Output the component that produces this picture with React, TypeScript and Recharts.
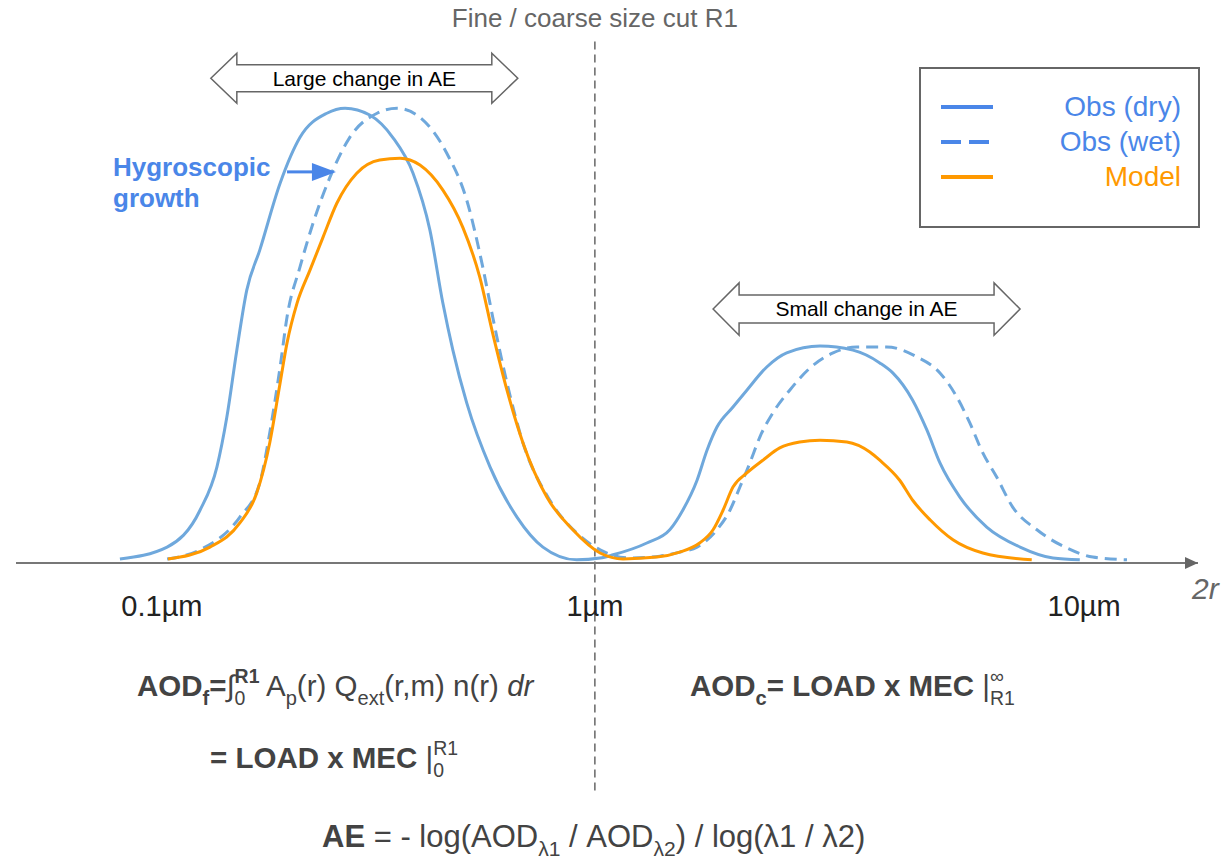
import React from 'react'
import {
  ComposedChart,
  Line,
  XAxis,
  YAxis,
  ReferenceLine,
  ReferenceArea,
  ReferenceDot,
  Legend,
} from 'recharts'

const FONT = '"Liberation Sans", Arial, Helvetica, sans-serif'

// x: log10 of 2r relative to 1 µm (schematic), y: relative amount (fine dry peak = 100)
const obsDry: [number, number][] = [
  [-1.097, 0.9], [-0.988, 3.5], [-0.912, 11.6], [-0.873, 21.1], [-0.85, 32.1],
  [-0.827, 46.8], [-0.804, 60.0], [-0.774, 68.8], [-0.727, 83.5], [-0.681, 93.6],
  [-0.619, 98.9], [-0.577, 100], [-0.52, 98.5], [-0.467, 93.6], [-0.42, 85.7],
  [-0.381, 73.2], [-0.351, 57.1], [-0.328, 46.8], [-0.296, 35.2], [-0.242, 21.1],
  [-0.18, 10.1], [-0.12, 3.5], [-0.042, 0.7], [0.012, 1.1], [0.042, 1.8],
  [0.12, 4.4], [0.173, 7.3], [0.203, 11.6], [0.236, 18.2], [0.259, 24.8],
  [0.282, 29.9], [0.319, 34.3], [0.351, 38.0], [0.397, 43.1], [0.443, 46.2],
  [0.52, 47.7], [0.596, 46.8], [0.658, 44.0], [0.688, 41.8], [0.734, 35.8],
  [0.767, 29.2], [0.797, 22.0], [0.843, 14.5], [0.905, 7.9], [0.982, 3.5],
  [1.058, 1.1], [1.12, 0.7],
]

const obsWet: [number, number][] = [
  [-0.988, 0.9], [-0.912, 2.9], [-0.82, 10.1], [-0.774, 17.6], [-0.751, 28.6],
  [-0.727, 43.1], [-0.711, 54.1], [-0.681, 65.1], [-0.651, 74.7], [-0.612, 84.8],
  [-0.566, 93.6], [-0.503, 98.9], [-0.457, 100], [-0.404, 98.0], [-0.342, 90.1],
  [-0.296, 79.8], [-0.259, 65.1], [-0.236, 54.1], [-0.203, 39.6], [-0.166, 26.4],
  [-0.104, 13.8], [-0.042, 6.6], [0.012, 2.9], [0.081, 1.1], [0.15, 1.5],
  [0.196, 2.4], [0.236, 3.5], [0.282, 7.3], [0.312, 11.6], [0.335, 16.7],
  [0.358, 22.0], [0.381, 27.7], [0.411, 33.0], [0.45, 38.0], [0.497, 42.9],
  [0.55, 46.2], [0.605, 47.5], [0.674, 47.5], [0.744, 45.3], [0.797, 41.8],
  [0.836, 36.5], [0.866, 30.8], [0.896, 24.2], [0.928, 18.9], [0.965, 12.3],
  [1.021, 7.3], [1.09, 3.3], [1.15, 1.3], [1.229, 0.7],
]

const model: [number, number][] = [
  [-0.986, 0.9], [-0.889, 3.5], [-0.82, 8.8], [-0.781, 15.4], [-0.751, 26.4],
  [-0.727, 39.6], [-0.711, 48.4], [-0.688, 57.1], [-0.658, 64.4], [-0.628, 71.6],
  [-0.596, 79.1], [-0.55, 85.7], [-0.497, 88.6], [-0.45, 89.0], [-0.404, 87.5],
  [-0.351, 82.0], [-0.305, 73.8], [-0.266, 62.9], [-0.236, 50.5], [-0.203, 38.0],
  [-0.166, 26.4], [-0.111, 14.5], [-0.051, 7.3], [0.012, 2.2], [0.065, 0.9],
  [0.143, 1.3], [0.196, 2.4], [0.242, 4.4], [0.273, 7.3], [0.296, 11.6],
  [0.319, 16.7], [0.351, 19.8], [0.388, 22.6], [0.427, 25.3], [0.473, 26.6],
  [0.52, 27.0], [0.582, 26.6], [0.635, 24.4], [0.658, 22.6], [0.704, 18.2],
  [0.734, 13.8], [0.774, 9.5], [0.827, 5.1], [0.896, 2.2], [1.009, 0.7],
]

const seriesNames = ['Obs (dry)', 'Obs (wet)', 'Model']
const seriesStroke = ['#6fa8dc', '#6fa8dc', '#ff9900']
const legendColors = ['#4a86e8', '#4a86e8', '#ff9900']
const legendDash = ['none', '20 8', 'none']

const tickPositions = [-1, 0, 1.13]
const tickLabels = ['0.1µm', '1µm', '10µm']

const xDomain: [number, number] = [-1.337, 1.393]
const yDomain: [number, number] = [0, 115]
const cutLineSpan = [-50, 114.9]

// annotation spans [x1, x2, y1, y2]
const largeChange = [-0.887, -0.178, 101.1, 112.1]
const smallChange = [0.273, 0.982, 50.1, 61.6]
const growthArrow = [-0.711, -0.598, 86]

const toRows = (pts: [number, number][]) => pts.map(([x, y]) => ({ x, y }))

function DoubleArrow(props: any) {
  const { x, y, width: w, height: h } = props
  const head = 26
  const half = h * 0.27
  const cy = y + h / 2
  const pts = [
    [x, cy], [x + head, y], [x + head, cy - half], [x + w - head, cy - half],
    [x + w - head, y], [x + w, cy], [x + w - head, y + h], [x + w - head, cy + half],
    [x + head, cy + half], [x + head, y + h],
  ]
  return (
    <polygon
      points={pts.map((p) => p.join(',')).join(' ')}
      fill="#fff"
      stroke="#666"
      strokeWidth={1.5}
    />
  )
}

function GrowthArrow(props: any) {
  const { x1, y1, x2 } = props
  return (
    <g>
      <line x1={x1} y1={y1} x2={x2 - 20} y2={y1} stroke="#4a86e8" strokeWidth={3} />
      <polygon
        points={`${x2 - 24},${y1 - 9} ${x2},${y1} ${x2 - 24},${y1 + 9}`}
        fill="#4a86e8"
      />
    </g>
  )
}

function AxisHead(props: any) {
  const { cx, cy } = props
  return <polygon points={`${cx - 13},${cy - 6} ${cx},${cy} ${cx - 13},${cy + 6}`} fill="#666" />
}

function SizeTick(props: any) {
  const { x, y, index } = props
  return (
    <text x={x} y={y} dy={19} textAnchor="middle" fill="#222" fontSize={29} fontFamily={FONT}>
      {tickLabels[index]}
    </text>
  )
}

function LegendBox() {
  return (
    <div
      style={{
        width: 281,
        height: 161,
        boxSizing: 'border-box',
        border: '2px solid #666',
        background: '#fff',
        paddingTop: 20,
        fontFamily: FONT,
      }}
    >
      {seriesNames.map((name, i) => (
        <div
          key={name}
          style={{ display: 'flex', alignItems: 'center', height: 35, paddingLeft: 20, paddingRight: 17 }}
        >
          <svg width="52" height="6" aria-hidden="true">
            <line
              x1="0" y1="3" x2="52" y2="3"
              stroke={legendColors[i]}
              strokeWidth="4"
              strokeDasharray={legendDash[i]}
            />
          </svg>
          <span style={{ flex: 1, textAlign: 'right', fontSize: 28, color: legendColors[i], lineHeight: 1 }}>
            {name}
          </span>
        </div>
      ))}
    </div>
  )
}

const sub: React.CSSProperties = { fontSize: '0.68em', position: 'relative', top: '0.42em' }

function Limits({ bar, hi, lo, hiBold }: { bar: string; hi: string; lo: string; hiBold?: boolean }) {
  return (
    <>
      <span style={{ fontWeight: 400 }}>{bar}</span>
      <span
        style={{
          display: 'inline-block',
          verticalAlign: 'middle',
          fontSize: '0.66em',
          lineHeight: 1.15,
          textAlign: 'left',
          position: 'relative',
          top: '-0.05em',
        }}
      >
        <span style={{ display: 'block', fontWeight: hiBold ? 700 : 400 }}>{hi}</span>
        <span style={{ display: 'block', fontWeight: 400 }}>{lo}</span>
      </span>
    </>
  )
}

const formulaStyle: React.CSSProperties = {
  position: 'absolute',
  fontFamily: FONT,
  fontSize: 29.5,
  lineHeight: '29px',
  color: '#434343',
  whiteSpace: 'nowrap',
}

export default function App() {
  return (
    <div style={{ position: 'absolute', left: 0, top: 0, width: 1229, height: 861, background: '#fff', fontFamily: FONT }}>
      <ComposedChart
        width={1229}
        height={861}
        margin={{ top: 40, right: 31, bottom: 248, left: 16 }}
      >
        <XAxis
          type="number"
          dataKey="x"
          domain={xDomain}
          allowDataOverflow
          ticks={tickPositions}
          interval={0}
          height={50}
          tickLine={false}
          tickSize={0}
          tickMargin={34}
          axisLine={{ stroke: '#777', strokeWidth: 2 }}
          tick={SizeTick}
          label={{ value: '2r', position: 'right', offset: -6, fill: '#666', fontSize: 30, fontStyle: 'italic', fontFamily: FONT }}
        />
        <YAxis type="number" domain={yDomain} allowDataOverflow hide />
        <Legend
          layout="horizontal"
          verticalAlign="middle"
          align="center"
          content={() => <LegendBox />}
          wrapperStyle={{ position: 'absolute', left: 919, top: 67, width: 281, height: 161 }}
        />
        <ReferenceLine
          segment={[{ x: 0, y: cutLineSpan[0] }, { x: 0, y: cutLineSpan[1] }]}
          ifOverflow="visible"
          stroke="#666"
          strokeWidth={1.5}
          strokeDasharray="8 5"
          label={{ value: 'Fine / coarse size cut R1', position: 'top', offset: 13, fill: '#666', fontSize: 26, fontFamily: FONT }}
        />
        <Line
          data={toRows(obsDry)}
          dataKey="y"
          name={seriesNames[0]}
          type="monotone"
          stroke={seriesStroke[0]}
          strokeWidth={3}
          dot={false}
          activeDot={false}
          isAnimationActive={false}
        />
        <Line
          data={toRows(obsWet)}
          dataKey="y"
          name={seriesNames[1]}
          type="monotone"
          stroke={seriesStroke[1]}
          strokeWidth={3}
          strokeDasharray="12 7"
          dot={false}
          activeDot={false}
          isAnimationActive={false}
        />
        <Line
          data={toRows(model)}
          dataKey="y"
          name={seriesNames[2]}
          type="monotone"
          stroke={seriesStroke[2]}
          strokeWidth={3}
          dot={false}
          activeDot={false}
          isAnimationActive={false}
        />
        <ReferenceArea
          x1={largeChange[0]}
          x2={largeChange[1]}
          y1={largeChange[2]}
          y2={largeChange[3]}
          shape={DoubleArrow}
          label={{ value: 'Large change in AE', position: 'center', fill: '#000', fontSize: 21, fontFamily: FONT }}
        />
        <ReferenceArea
          x1={smallChange[0]}
          x2={smallChange[1]}
          y1={smallChange[2]}
          y2={smallChange[3]}
          shape={DoubleArrow}
          label={{ value: 'Small change in AE', position: 'center', fill: '#000', fontSize: 21, fontFamily: FONT }}
        />
        <ReferenceLine
          segment={[{ x: growthArrow[0], y: growthArrow[2] }, { x: growthArrow[1], y: growthArrow[2] }]}
          ifOverflow="visible"
          shape={GrowthArrow}
        />
        <ReferenceDot x={xDomain[1]} y={0} ifOverflow="visible" shape={AxisHead} />
      </ComposedChart>

      <div
        style={{
          position: 'absolute',
          left: 113,
          top: 152,
          fontFamily: FONT,
          fontWeight: 700,
          fontSize: 26,
          lineHeight: '31px',
          color: '#4a86e8',
        }}
      >
        Hygroscopic
        <br />
        growth
      </div>

      <div style={{ ...formulaStyle, left: 137, top: 666 }}>
        <b>AOD<span style={sub}>f</span>=</b>
        <Limits bar="∫" hi="R1" lo="0" hiBold /> A<span style={sub}>p</span>(r) Q<span style={sub}>ext</span>(r,m) n(r) <i>dr</i>
      </div>
      <div style={{ ...formulaStyle, left: 210, top: 738 }}>
        <b>= LOAD x MEC </b>
        <Limits bar="|" hi="R1" lo="0" />
      </div>
      <div style={{ ...formulaStyle, left: 690, top: 666 }}>
        <b>AOD<span style={sub}>c</span>= LOAD x MEC </b>
        <Limits bar="|" hi="∞" lo="R1" />
      </div>
      <div style={{ ...formulaStyle, fontSize: 31, left: 322, top: 822 }}>
        <b>AE</b> = - log(AOD<span style={sub}>λ1</span> / AOD<span style={sub}>λ2</span>) / log(λ1 / λ2)
      </div>
    </div>
  )
}
